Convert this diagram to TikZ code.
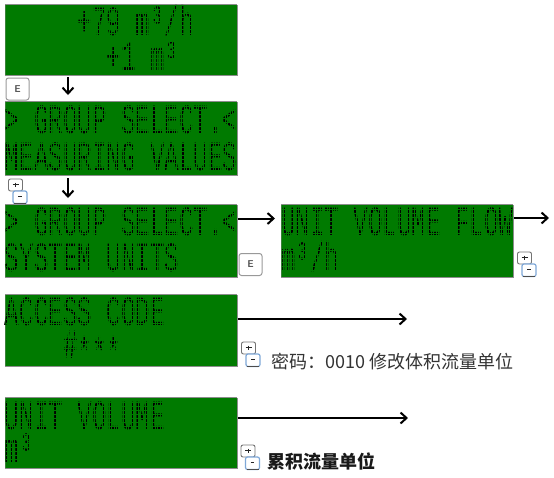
\documentclass[tikz,border=0pt]{standalone}
\usepackage{fontspec}
\usetikzlibrary{arrows.meta}
\setmonofont{Liberation Mono}
\newfontfamily\cjk{Noto Sans CJK SC}
\definecolor{lcdgreen}{HTML}{007A00}
\definecolor{lcdedge}{HTML}{8C8C8C}
\definecolor{keybluec}{HTML}{7FA8D8}
\tikzset{
  x=1pt,y=-1pt,
  lcdbox/.style={draw=lcdedge,line width=0.8pt,fill=lcdgreen,anchor=north west,inner sep=0pt,minimum width=232pt},
  lcdtext/.style={anchor=base west,inner sep=0pt,outer sep=0pt,text=black,font=\ttfamily\fontsize{24.17pt}{24.17pt}\selectfont},
  flow/.style={line width=2pt,-{Straight Barb[length=6pt,width=11pt,line width=2pt]}},
  keyface/.style={draw=black!55,fill=white,rounded corners=2pt,line width=0.9pt},
  keyblue/.style={draw=keybluec,line width=1.2pt,rounded corners=2pt},
  ekey/.style={draw=black!40,fill=white,rounded corners=2.5pt,line width=1pt,inner sep=0pt,
    minimum width=23pt,minimum height=22pt,font=\sffamily\bfseries\fontsize{10pt}{10pt}\selectfont,text=black!65},
  note/.style={anchor=base west,inner sep=0pt,text=black!80,font=\cjk\fontsize{18pt}{20pt}\selectfont}
}
% name, left, top, height, baseline 1, col 1, text 1, col 2, baseline 2
\newcommand{\lcdpanel}[9]{%
  \node[lcdbox,minimum height=#4pt] (#1) at (#2,#3) {};
  \draw[lcdedge,line width=1.4pt] (#2,#3) -- ({#2+232},#3);
  \node[lcdtext] (#1a) at ({#2+14.5*#6},#5) {\scalebox{1}[1.72]{#7}};
  \node[lcdtext] (#1b) at ({#2+14.5*#8},#9) {\scalebox{1}[1.72]{\lcdsecond}};
  \begin{scope}
    \clip ({#2+0.5},{#3+0.8}) rectangle ({#2+231.5},{#3+#4-0.5});
    \begin{scope}[shift={(#2,#3)}]
      \draw[lcdgreen,line width=0.35pt,xstep=2.417pt,ystep=2000pt] (0,0) grid (232,#4);
      \draw[lcdgreen,line width=0.9pt,xstep=2000pt,ystep=4.1pt] (0,0) grid (232,#4);
    \end{scope}
  \end{scope}
}
% name, x of upper key, y of upper key
\newcommand{\keypair}[3]{%
  \coordinate (#1) at (#2,#3);
  \draw[keyface] (#2,#3) rectangle ({#2+14},{#3+12});
  \draw[black!85,line width=1.1pt] ({#2+4},{#3+5.5}) -- ({#2+10},{#3+5.5});
  \draw[black!85,line width=0.7pt] ({#2+7},{#3+3.5}) -- ({#2+7},{#3+7.5});
  \draw[keyblue,fill=white] ({#2+4.5},{#3+12}) rectangle ({#2+18.5},{#3+24.5});
  \draw[black!85,line width=1.8pt] ({#2+9.5},{#3+17.5}) -- ({#2+13},{#3+17.5});
  \draw[black!70,line width=0.8pt] ({#2+5.5},{#3+24.5}) -- ({#2+17.5},{#3+24.5});
}
\begin{document}
\begin{tikzpicture}
\useasboundingbox (0,0) rectangle (554,477);
\fill[white] (0,0) rectangle (554,477);

\def\lcdsecond{+1 m³}
\lcdpanel{p1}{5}{5}{70}{35}{5}{+79 m³/h}{7}{70}
\def\lcdsecond{MEASURING VALUES}
\lcdpanel{p2}{5}{102}{73}{133}{0}{> GROUP SELECT.<}{0}{170}
\def\lcdsecond{SYSTEM UNITS}
\lcdpanel{p3}{5}{205}{72}{235}{0}{> GROUP SELECT.<}{0}{271}
\def\lcdsecond{m³/h}
\lcdpanel{p4}{281}{205}{72}{235}{0}{UNIT VOLUME FLOW}{0}{271}
\def\lcdsecond{\#\raisebox{-5pt}{***}}
\lcdpanel{p5}{5}{295}{71}{325}{0}{ACCESS CODE}{4}{358}
\def\lcdsecond{m³}
\lcdpanel{p6}{5}{398}{70}{429}{0}{UNIT VOLUME}{0}{462}

\node[ekey] (e1) at (17.5,89) {E};
\node[ekey] (e2) at (250.5,264.5) {E};
\keypair{k1}{8.5}{179}
\keypair{k2}{517.5}{252}
\keypair{k3}{241.5}{342}
\keypair{k4}{241}{445}

\coordinate (a1s) at (68,77);
\coordinate (a1e) at (68,95);
\coordinate (a2s) at (68,178);
\coordinate (a2e) at (68,198);
\coordinate (a3e) at (275,218.5);
\coordinate (a4e) at (549,218);
\coordinate (a5e) at (407,319);
\coordinate (a6e) at (408,418);
\draw[flow] (a1s) -- (a1e);
\draw[flow] (a2s) -- (a2e);
\draw[flow] (p3.east |- a3e) -- (a3e);
\draw[flow] (p4.east |- a4e) -- (a4e);
\draw[flow] (p5.east |- a5e) -- (a5e);
\draw[flow] (p6.east |- a6e) -- (a6e);

\node[note] (n1) at (271,368) {密码：0010 修改体积流量单位};
\node[note,font=\cjk\bfseries\fontsize{18pt}{20pt}\selectfont,text=black!90] (n2) at (267,468) {累积流量单位};
\end{tikzpicture}
\end{document}
